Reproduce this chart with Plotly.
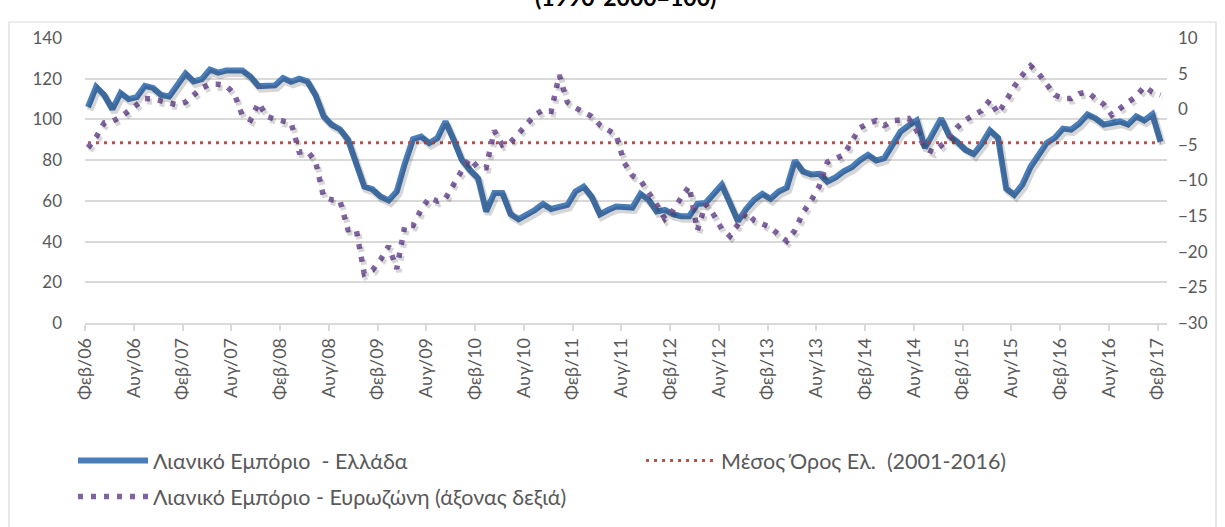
import plotly.graph_objects as go

# ---------------- data (monthly, Feb 2006 .. Feb 2017) ----------------
greece_retail = [
    106, 116, 112, 105, 113, 110, 111, 116.5, 115.5, 112, 111.3, 117,
    122.5, 118.7, 119.8, 124.5, 123, 124, 124, 124, 121, 116.3, 116.5, 116.7,
    120.3, 118.5, 120, 118.7, 112, 101.5, 97.4, 95.2, 90, 78.5, 67, 65.7,
    62.1, 60.2, 64.6, 78.5, 90.3, 91.6, 88.4, 90.8, 99, 90, 80.2, 75.2,
    71.1, 54.8, 63.8, 63.8, 53.5, 51, 53, 55.5, 58.5, 56, 57, 58,
    64.6, 67, 62, 53.4, 55.5, 57.2, 57, 56.7, 63.4, 60.5, 54.8, 55.6,
    53.5, 52.5, 52.5, 58.5, 58.9, 63, 67.9, 59, 50, 56, 60.5, 63.4,
    61, 64.6, 66.5, 79.8, 74.4, 73, 73.3, 69.5, 71.5, 74.5, 76.5, 80,
    82.6, 79.8, 81, 87.5, 94, 97, 99.5, 86, 93, 100.5, 92, 89,
    85, 83, 88, 94.6, 91, 66, 63, 68, 76.6, 83, 88.5, 91,
    95.5, 95, 98, 102.5, 100.5, 97.5, 98, 99, 97.5, 101.5, 99.5, 102.5,
    89,
]

eurozone_retail = [
    -5.4, -3.9, -1.9, -1.7, -1.1, -0.3, 0.5, 1.5, 1.45, 1.2, 0.9, 0.6,
    1.0, 2.1, 3.0, 3.5, 3.5, 3.3, 2.2, -0.9, -1.5, 0.9, -1.0, -1.4,
    -1.7, -1.9, -6.0, -5.9, -7.3, -12.3, -12.7, -12.8, -16.9, -16.8, -23.1, -22.6,
    -21.1, -19.2, -22.4, -16.3, -16.3, -14.1, -12.4, -12.9, -12.5, -10.4, -8.6, -6.9,
    -8.2, -8.2, -3.0, -5.0, -4.6, -3.4, -2.2, -0.8, -0.1, -0.3, 4.8, 1.0,
    0.2, -0.5, -1.0, -2.2, -3.0, -3.6, -7.5, -9.3, -10.0, -11.6, -13.4, -15.4,
    -14.2, -12.4, -10.8, -17.0, -13.3, -14.8, -16.8, -17.8, -16.3, -14.5, -15.6, -16.1,
    -16.6, -17.6, -18.5, -17.0, -14.5, -12.8, -10.8, -7.4, -6.8, -6.4, -4.5, -2.6,
    -2.0, -1.6, -2.3, -1.6, -1.5, -1.3, -3.0, -5.5, -6.0, -5.2, -4.2, -2.5,
    -1.5, -0.8, -0.2, 1.3, -0.6, 1.2, 3.2, 4.8, 6.1, 5.0, 3.5, 2.0,
    1.5, 1.5, 2.2, 2.4, 1.5, 0.7, -0.8, 0.2, 1.0, 1.8, 3.2, 2.4,
    2.0,
]

greece_average = 88.6  # Μέσος Όρος Ελ. (2001-2016)

tick_labels = [
    "Φεβ/06", "Αυγ/06", "Φεβ/07", "Αυγ/07", "Φεβ/08", "Αυγ/08", "Φεβ/09", "Αυγ/09",
    "Φεβ/10", "Αυγ/10", "Φεβ/11", "Αυγ/11", "Φεβ/12", "Αυγ/12", "Φεβ/13", "Αυγ/13",
    "Φεβ/14", "Αυγ/14", "Φεβ/15", "Αυγ/15", "Φεβ/16", "Αυγ/16", "Φεβ/17",
]
tick_step = 6  # months between labels

series_names = [
    "Λιανικό Εμπόριο  - Ελλάδα",
    "Μέσος Όρος Ελ.  (2001-2016)",
    "Λιανικό Εμπόριο - Ευρωζώνη (άξονας δεξιά)",
]
title_text = "(1990-2000=100)"

# ---------------- figure ----------------
W, H = 1225, 527
ML, MR, MT, MB = 85, 58, 38, 204
FONT = "Lato, 'Open Sans', sans-serif"
GRID = "#d9d9d9"
TXT = "#595959"
SHADOW = "rgba(0,0,0,0.16)"

n = len(greece_retail)
x = list(range(n))

X_RANGE = [-0.37, 132.8]
Y1_RANGE = [0, 140]
Y2_RANGE = [-30, 10]

plot_w = W - ML - MR
plot_h = H - MT - MB

# shadow offset (pixels) converted to axis units
sdx, sdy = 2.0, 3.0
dx_units = sdx * (X_RANGE[1] - X_RANGE[0]) / plot_w
dy1_units = sdy * (Y1_RANGE[1] - Y1_RANGE[0]) / plot_h
dy2_units = sdy * (Y2_RANGE[1] - Y2_RANGE[0]) / plot_h

fig = go.Figure()
# soft shadows (same data drawn on slightly shifted axes)
fig.add_trace(go.Scatter(
    x=x, y=greece_retail, mode="lines", showlegend=False, xaxis="x2", yaxis="y3",
    line=dict(color=SHADOW, width=7), hoverinfo="skip",
))
fig.add_trace(go.Scatter(
    x=x, y=eurozone_retail, mode="lines", showlegend=False, xaxis="x2", yaxis="y4",
    line=dict(color=SHADOW, width=6, dash="5px,8px"), hoverinfo="skip",
))
fig.add_trace(go.Scatter(
    x=x, y=greece_retail, mode="lines", name=series_names[0], legend="legend",
    line=dict(color="#4A7EBB", width=6), hoverinfo="skip",
))
fig.add_trace(go.Scatter(
    x=x, y=[greece_average] * n, mode="lines", name=series_names[1], legend="legend",
    line=dict(color="#C0504D", width=3, dash="3px,5px"), hoverinfo="skip",
))
fig.add_trace(go.Scatter(
    x=x, y=eurozone_retail, mode="lines", name=series_names[2], yaxis="y2",
    legend="legend2",
    line=dict(color="#8064A2", width=5.5, dash="5px,8px"), hoverinfo="skip",
))

tick_offset = -0.35
tickvals = [k * tick_step + tick_offset for k in range(len(tick_labels))]


def px_x(p):
    return (p - ML) / plot_w


def px_y(p):
    return 1 - (p - MT) / plot_h


hidden = dict(visible=False, showgrid=False, zeroline=False)
legend_common = dict(
    orientation="h", xanchor="left", yanchor="top",
    font=dict(family=FONT, size=21.5, color=TXT),
    itemwidth=70, entrywidth=483, entrywidthmode="pixels",
    tracegroupgap=0, bgcolor="rgba(0,0,0,0)",
)

fig.update_layout(
    width=W, height=H,
    margin=dict(l=ML, r=MR, t=MT, b=MB, autoexpand=False),
    paper_bgcolor="white", plot_bgcolor="white",
    font=dict(family=FONT, color=TXT, size=16),
    showlegend=True,
    legend=dict(x=px_x(73), y=px_y(440), **legend_common),
    legend2=dict(x=px_x(73), y=px_y(476), **legend_common),
    xaxis=dict(
        range=X_RANGE, tickvals=tickvals, ticktext=tick_labels,
        tickangle=-90, ticks="outside", ticklen=6, tickcolor=GRID, tickwidth=1.5,
        showline=True, linecolor=GRID, linewidth=1.5, showgrid=False, zeroline=False,
        tickfont=dict(family=FONT, size=18, color=TXT),
    ),
    xaxis2=dict(range=[X_RANGE[0] - dx_units, X_RANGE[1] - dx_units],
                overlaying="x", **hidden),
    yaxis=dict(
        range=Y1_RANGE, dtick=20, showgrid=True, gridcolor=GRID, gridwidth=1.5,
        zeroline=False, showline=False, ticks="",
        tickfont=dict(family=FONT, size=17, color=TXT), ticklabelstandoff=22,
    ),
    yaxis2=dict(
        range=Y2_RANGE, dtick=5, overlaying="y", side="right", showgrid=False,
        zeroline=False, showline=False, ticks="",
        tickfont=dict(family=FONT, size=17, color=TXT), ticklabelstandoff=10,
    ),
    yaxis3=dict(range=[Y1_RANGE[0] + dy1_units, Y1_RANGE[1] + dy1_units],
                overlaying="y", **hidden),
    yaxis4=dict(range=[Y2_RANGE[0] + dy2_units, Y2_RANGE[1] + dy2_units],
                overlaying="y", **hidden),
    shapes=[dict(
        type="rect", xref="paper", yref="paper",
        x0=px_x(9), x1=px_x(1216), y0=px_y(560), y1=px_y(22),
        line=dict(color="#d9d9d9", width=1.2), fillcolor="rgba(0,0,0,0)", layer="below",
    )],
    annotations=[dict(
        text=title_text, xref="paper", yref="paper", x=px_x(625), y=px_y(13),
        xanchor="center", yanchor="bottom", showarrow=False,
        font=dict(family=FONT, size=23, color="#000000", weight="bold"),
    )],
)

fig.write_html(
    "out.html",
    config={"displayModeBar": False},
    post_script="document.body.style.margin='0';",
)
